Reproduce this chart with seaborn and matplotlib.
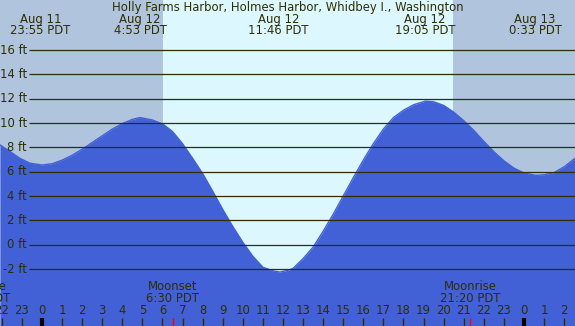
import seaborn as sns
import matplotlib.pyplot as plt

# tide curve (hours from midnight Aug 12, feet)
tide_hours = [-2.09, -1.59, -1.1, -0.6, 0, 0.5, 1, 1.5, 2, 2.5, 3, 3.5, 4, 4.5, 4.88,
              5.5, 6.03, 6.5, 7, 7.5, 8, 8.5, 9, 9.5, 10, 10.5, 11, 11.5, 11.85, 12.25,
              12.5, 13, 13.5, 14, 14.5, 15, 15.5, 16, 16.5, 17, 17.5, 18, 18.5, 19.1,
              19.5, 20, 20.5, 21, 21.5, 22, 22.5, 23, 23.5, 24, 24.6, 25, 25.5, 26, 26.54]
tide_ft = [8.2, 7.65, 7.1, 6.7, 6.55, 6.65, 6.95, 7.35, 7.85, 8.4, 8.95, 9.5, 9.95, 10.3, 10.45,
           10.25, 9.9, 9.3, 8.3, 7.1, 5.85, 4.4, 2.9, 1.5, 0.2, -0.95, -1.85, -2.15, -2.25, -2.1,
           -1.95, -1.15, -0.2, 1.1, 2.5, 4.0, 5.5, 6.95, 8.3, 9.5, 10.45, 11.05, 11.5, 11.8,
           11.75, 11.45, 10.9, 10.2, 9.4, 8.5, 7.65, 6.9, 6.3, 5.9, 5.7, 5.75, 5.92, 6.4, 7.1]

# high / low labels
ext_hours = [-0.08, 4.88, 11.77, 19.08, 24.55]
ext_dates = ["Aug 11", "Aug 12", "Aug 12", "Aug 12", "Aug 13"]
ext_times = ["23:55 PDT", "4:53 PDT", "11:46 PDT", "19:05 PDT", "0:33 PDT"]

# sun and moon
sunrise, sunset = 6.03, 20.47
moon_hours = [-3.08, 6.5, 21.33]
moon_names = ["Moonrise", "Moonset", "Moonrise"]
moon_times = ["20:55 PDT", "6:30 PDT", "21:20 PDT"]

ft_levels = [-2, 0, 2, 4, 6, 8, 10, 12, 14, 16]
hour_ticks = list(range(-2, 27))

title = "Holly Farms Harbor, Holmes Harbor, Whidbey I., Washington"

night = "#b0c4de"
day = "#ddf7ff"
water = "#4261d6"
ink = "#2e2e00"
fs = 8.4

sns.set_theme(style="white")
plt.rcParams['font.family'] = ['DejaVu Sans']

W, H = 575, 326
fig = plt.figure(figsize=(W / 100, H / 100), dpi=100)
ax = fig.add_axes([0, 0, 1, 1])
ax.set_axis_off()

px_per_hour = 20.08
px_per_ft = 12.167
x0, y0 = 42, 244.7
xmin, xmax = -x0 / px_per_hour, (W - x0) / px_per_hour
ymin, ymax = -(H - y0) / px_per_ft, y0 / px_per_ft
ax.set_xlim(xmin, xmax)
ax.set_ylim(ymin, ymax)

ax.axvspan(xmin, sunrise, color=night, lw=0)
ax.axvspan(sunrise, sunset, color=day, lw=0)
ax.axvspan(sunset, xmax, color=night, lw=0)

ax.fill_between(tide_hours, tide_ft, ymin, color=water, lw=0, zorder=2)
sns.lineplot(x=tide_hours, y=tide_ft, color=water, lw=1, ax=ax, zorder=2)

# grid lines + ft labels
ax.hlines(ft_levels, (29 - x0) / px_per_hour, xmax, color=ink, lw=0.9, zorder=3)
for f in ft_levels:
    ax.text(27 / W, f, f"{f} ft", transform=ax.get_yaxis_transform(),
            ha="right", va="center", fontsize=fs, color=ink, zorder=4)

xt = ax.get_xaxis_transform()

def fy(px):
    return 1 - px / H

ax.text(0.5, fy(7), title, transform=ax.transAxes, ha="center", va="center",
        fontsize=fs, color=ink)
for h, d, t in zip(ext_hours, ext_dates, ext_times):
    ax.text(h, fy(19.5), d, transform=xt, ha="center", va="center", fontsize=fs, color=ink)
    ax.text(h, fy(31), t, transform=xt, ha="center", va="center", fontsize=fs, color=ink)

# hour ticks
for h in hour_ticks:
    midnight = h % 24 == 0
    ax.vlines(h, 0, 8 / H, transform=xt, color="black" if midnight else ink,
              lw=3 if midnight else 1, zorder=4)
    ax.text(h, fy(311), str(h % 24), transform=xt, ha="center", va="center",
            fontsize=fs, color=ink, zorder=4)

for h, n, t in zip(moon_hours, moon_names, moon_times):
    ax.vlines(h, 0, 8 / H, transform=xt, color="red", lw=1, zorder=4)
    ax.text(h, fy(287), n, transform=xt, ha="center", va="center", fontsize=fs, color=ink)
    ax.text(h, fy(299), t, transform=xt, ha="center", va="center", fontsize=fs, color=ink)

fig.savefig("out.png", dpi=100)
